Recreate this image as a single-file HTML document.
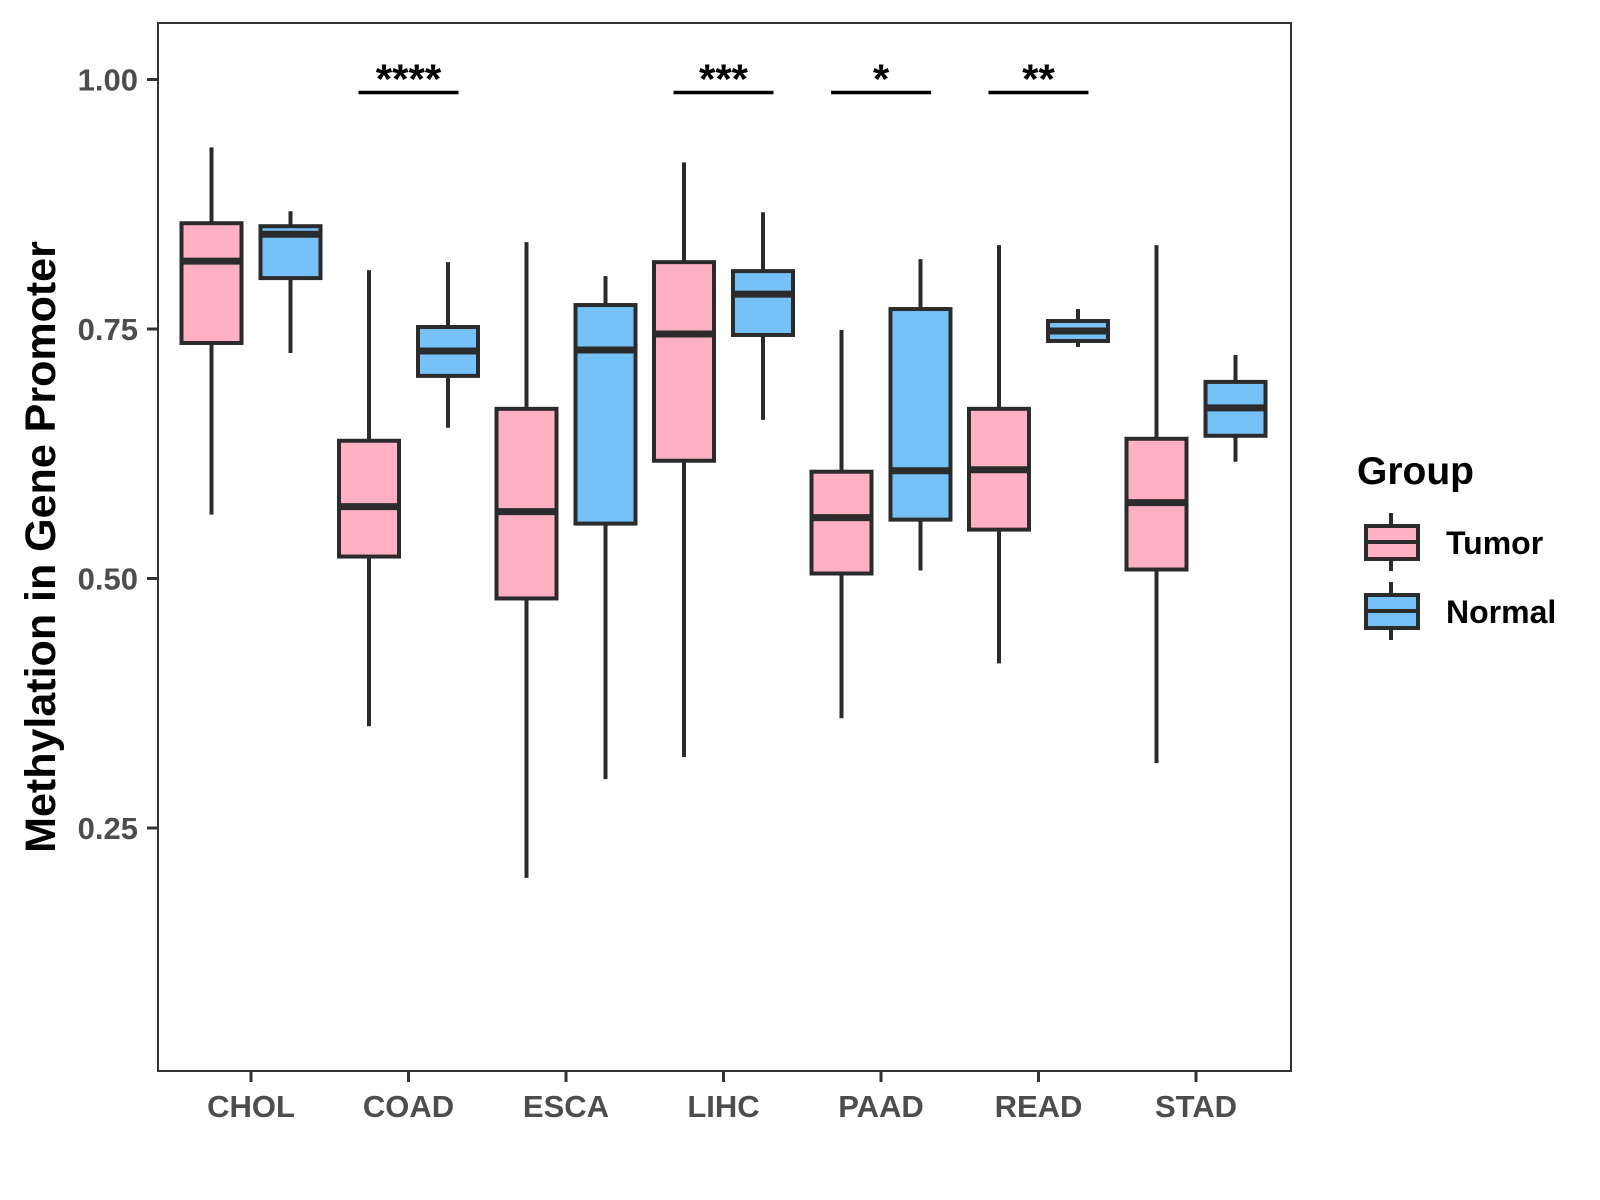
<!DOCTYPE html>
<html><head><meta charset="utf-8"><style>body{margin:0;background:#fff}svg{display:block}text{font-family:"Liberation Sans",Arial,sans-serif;font-weight:bold}</style></head>
<body>
<svg id="chart" width="1600" height="1200" xmlns="http://www.w3.org/2000/svg">
<rect x="0" y="0" width="1600" height="1200" fill="#fff"/>
<g id="marks"></g>
<rect x="158" y="23" width="1133" height="1048" fill="none" stroke="#333" stroke-width="2"/>
<text x="0" y="0" transform="translate(55,547) rotate(-90)" text-anchor="middle" font-size="43" fill="#000">Methylation in Gene Promoter</text>
<text x="1357" y="484" font-size="39" fill="#000">Group</text>
<g>
<line x1="1391" y1="513" x2="1391" y2="571" stroke="#2b2b2b" stroke-width="4"/>
<rect x="1366" y="526" width="52" height="33" fill="#FFB0C2" stroke="#2b2b2b" stroke-width="4"/>
<line x1="1366" y1="542" x2="1418" y2="542" stroke="#2b2b2b" stroke-width="4"/>
<text x="1446" y="554" font-size="32" fill="#000">Tumor</text>
</g>
<g>
<line x1="1391" y1="582" x2="1391" y2="640" stroke="#2b2b2b" stroke-width="4"/>
<rect x="1366" y="595" width="52" height="33" fill="#75C1F8" stroke="#2b2b2b" stroke-width="4"/>
<line x1="1366" y1="611" x2="1418" y2="611" stroke="#2b2b2b" stroke-width="4"/>
<text x="1446" y="623" font-size="32" fill="#000">Normal</text>
</g>
</svg>
<script>
const categories = ["CHOL","COAD","ESCA","LIHC","PAAD","READ","STAD"];
// [whiskerLow, Q1, median, Q3, whiskerHigh]
const tumorStats = [
 [0.564,0.736,0.818,0.856,0.932],
 [0.352,0.522,0.572,0.638,0.809],
 [0.200,0.480,0.567,0.670,0.837],
 [0.321,0.618,0.745,0.817,0.917],
 [0.360,0.505,0.561,0.607,0.749],
 [0.415,0.549,0.609,0.670,0.834],
 [0.315,0.509,0.576,0.640,0.834]
];
const normalStats = [
 [0.726,0.801,0.845,0.853,0.868],
 [0.651,0.703,0.728,0.752,0.817],
 [0.299,0.555,0.729,0.774,0.803],
 [0.659,0.744,0.785,0.808,0.867],
 [0.508,0.559,0.608,0.770,0.820],
 [0.732,0.738,0.748,0.758,0.770],
 [0.617,0.643,0.671,0.697,0.724]
];
const sigLabels = ["","****","","***","*","**",""];
const yTicks = [0.25,0.50,0.75,1.00];
const yTickLabels = ["0.25","0.50","0.75","1.00"];

const NS="http://www.w3.org/2000/svg";
const marks=document.getElementById('marks');
function yScale(v){return 79.5+(1-v)*998;}
function xScale(i){return 251+i*157.5;}
function mk(tag,attrs,parent){const e=document.createElementNS(NS,tag);for(const k in attrs)e.setAttribute(k,attrs[k]);(parent||marks).appendChild(e);return e;}

yTicks.forEach((v,i)=>{
  const y=yScale(v);
  const t=mk('line',{x1:147,x2:158,y1:y,y2:y,stroke:'#333','stroke-width':3});
  
  
  const l=mk('text',{x:138,y:y+11,'text-anchor':'end','font-size':31,fill:'#4d4d4d'});
  l.textContent=yTickLabels[i];
  
  
});
categories.forEach((c,i)=>{
  const x=xScale(i);
  const t=mk('line',{x1:x,x2:x,y1:1071,y2:1082,stroke:'#333','stroke-width':3});
  
  
  const l=mk('text',{x:x,y:1117,'text-anchor':'middle','font-size':31,fill:'#4d4d4d'});
  l.textContent=c;
  
  
});
function drawBox(i,s,off,fill,grp){
  const cx=xScale(i)+off, w=60;
  const g=mk('g',{});
  
  
  mk('line',{x1:cx,x2:cx,y1:yScale(s[0]),y2:yScale(s[4]),stroke:'#2b2b2b','stroke-width':4},g);
  mk('rect',{x:cx-w/2,y:yScale(s[3]),width:w,height:yScale(s[1])-yScale(s[3]),fill:fill,stroke:'#2b2b2b','stroke-width':4},g);
  mk('line',{x1:cx-w/2,x2:cx+w/2,y1:yScale(s[2]),y2:yScale(s[2]),stroke:'#2b2b2b','stroke-width':7},g);
}
categories.forEach((c,i)=>{
  drawBox(i,tumorStats[i],-39.5,'#FFB0C2','tumor');
  drawBox(i,normalStats[i],39.5,'#75C1F8','normal');
  if(sigLabels[i]){
    const x=xScale(i), y=yScale(0.987);
    const ln=mk('line',{x1:x-50,x2:x+50,y1:y,y2:y,stroke:'#000','stroke-width':3.5});
    
    
    const t=mk('text',{x:x,y:y+1,'text-anchor':'middle','font-size':42,fill:'#000'});
    t.textContent=sigLabels[i];
    
    
  }
});
</script>
</body></html>
